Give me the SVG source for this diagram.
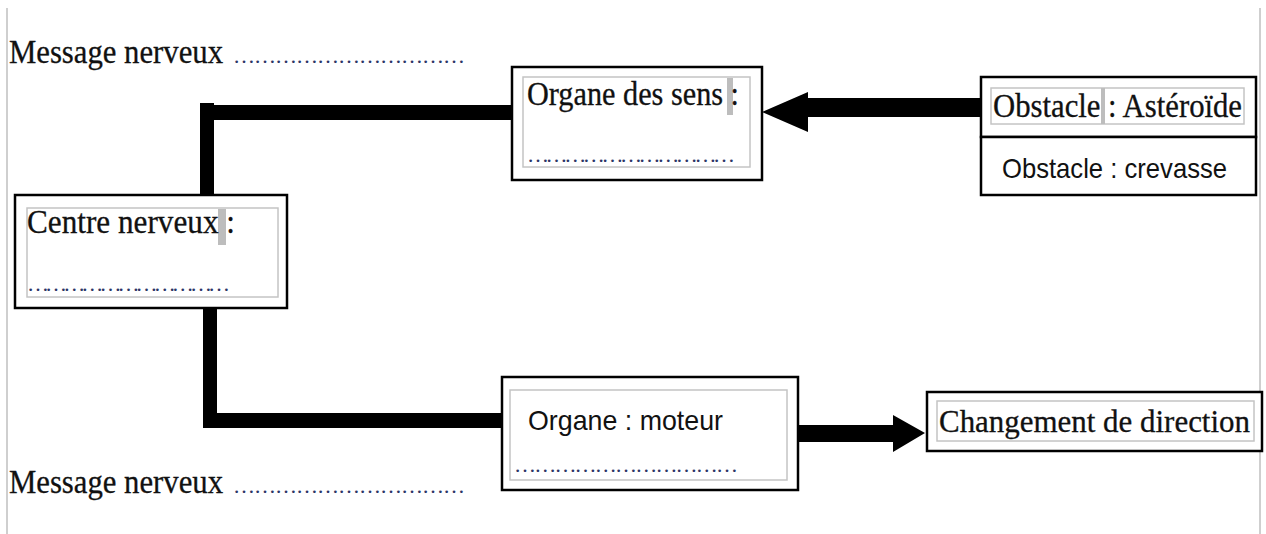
<svg xmlns="http://www.w3.org/2000/svg" width="1266" height="534" viewBox="0 0 1266 534">
  <style>
    .serif { font-family: "Liberation Serif", "Times New Roman", serif; font-size: 33px; fill: #111; stroke: #111; stroke-width: 0.3; }
    .sans { font-family: "Liberation Sans", Arial, sans-serif; font-size: 28px; fill: #111; }
    .dots { font-family: "Liberation Serif", "Times New Roman", serif; font-size: 22px; fill: #2b3566; }
    .box { fill: #fff; stroke: #000; stroke-width: 2.5; }
    .field { fill: none; stroke: #c4c4c4; stroke-width: 1.5; }
    .mark { fill: #bdbdbd; }
    .margin { stroke: #cfcfcf; stroke-width: 2; }
    .bar { fill: #000; }
  </style>

  <rect width="1266" height="534" fill="#fff"/>

  <!-- page margins -->
  <line class="margin" x1="7" y1="8" x2="7" y2="534"/>
  <line class="margin" x1="1260" y1="8" x2="1260" y2="534"/>

  <!-- connectors -->
  <g id="connectors">
    <!-- sense organ to nerve centre -->
    <rect class="bar" x="200" y="103" width="14" height="93"/>
    <rect class="bar" x="200" y="105" width="313" height="15"/>
    <!-- nerve centre to motor organ -->
    <rect class="bar" x="203" y="307" width="14" height="121"/>
    <rect class="bar" x="203" y="413" width="300" height="15"/>
    <!-- obstacle to sense organ -->
    <polygon class="bar" points="981,98 808,98 808,92 762,112 808,132 808,117 981,117"/>
    <!-- motor organ to change of direction -->
    <polygon class="bar" points="797,425 893,425 893,415 925,433 893,452 893,442 797,442"/>
  </g>

  <!-- top message label -->
  <g id="message-top">
    <text class="serif" x="9" y="63" textLength="214" lengthAdjust="spacingAndGlyphs">Message nerveux</text>
    <text class="dots" x="233" y="63" textLength="232" lengthAdjust="spacing">……………………………</text>
  </g>

  <!-- sense organ -->
  <g id="organe-sens">
    <rect class="box" x="512" y="67" width="250" height="113"/>
    <rect class="field" x="523" y="77" width="227" height="90"/>
    <rect class="mark" x="727" y="78" width="6" height="37"/>
    <text class="serif" x="527" y="105" textLength="212" lengthAdjust="spacingAndGlyphs">Organe des sens :</text>
    <text class="dots" x="527" y="162" textLength="208" lengthAdjust="spacing">……………………………</text>
  </g>

  <!-- obstacle: asteroid -->
  <g id="obstacle-asteroide">
    <rect class="box" x="981" y="77" width="275" height="60"/>
    <rect class="field" x="991" y="88" width="253" height="36"/>
    <rect class="mark" x="1101" y="88" width="4" height="36"/>
    <text class="serif" x="993" y="117" textLength="249" lengthAdjust="spacingAndGlyphs">Obstacle : Astéroïde</text>
  </g>

  <!-- obstacle: crevasse -->
  <g id="obstacle-crevasse">
    <rect class="box" x="981" y="137" width="275" height="58"/>
    <text class="sans" x="1002" y="178" textLength="225" lengthAdjust="spacingAndGlyphs">Obstacle : crevasse</text>
  </g>

  <!-- nerve centre -->
  <g id="centre-nerveux">
    <rect class="box" x="15" y="195" width="272" height="113"/>
    <rect class="field" x="27" y="208" width="251" height="89"/>
    <rect class="mark" x="218" y="209" width="8" height="36"/>
    <text class="serif" x="27" y="233" textLength="208" lengthAdjust="spacingAndGlyphs">Centre nerveux :</text>
    <text class="dots" x="27" y="291" textLength="203" lengthAdjust="spacing">……………………………</text>
  </g>

  <!-- motor organ -->
  <g id="organe-moteur">
    <rect class="box" x="502" y="377" width="296" height="113"/>
    <rect class="field" x="510" y="390" width="277" height="90"/>
    <text class="sans" x="528" y="430" textLength="195" lengthAdjust="spacingAndGlyphs">Organe : moteur</text>
    <text class="dots" x="514" y="472" textLength="224" lengthAdjust="spacing">……………………………</text>
  </g>

  <!-- change of direction -->
  <g id="changement-direction">
    <rect class="box" x="927" y="392" width="335" height="59"/>
    <rect class="field" x="937" y="401" width="317" height="40"/>
    <text class="serif" x="939" y="432" textLength="311" lengthAdjust="spacingAndGlyphs" style="font-size:31px">Changement de direction</text>
  </g>

  <!-- bottom message label -->
  <g id="message-bottom">
    <text class="serif" x="9" y="493" textLength="214" lengthAdjust="spacingAndGlyphs">Message nerveux</text>
    <text class="dots" x="233" y="493" textLength="232" lengthAdjust="spacing">……………………………</text>
  </g>
</svg>
